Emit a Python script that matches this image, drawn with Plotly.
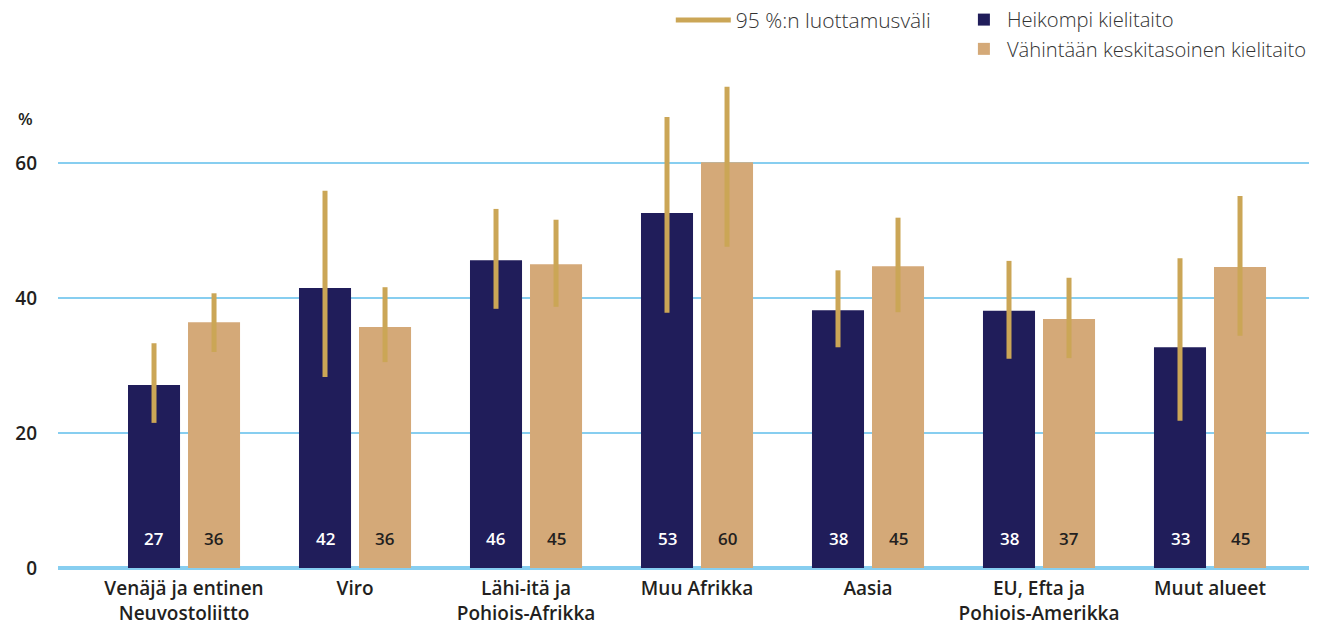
import plotly.graph_objects as go

# categories and tick labels
regions = [
    "Venäjä ja entinen<br>Neuvostoliitto",
    "Viro",
    "Lähi-itä ja<br>Pohjois-Afrikka",
    "Muu Afrikka",
    "Aasia",
    "EU, Efta ja<br>Pohjois-Amerikka",
    "Muut alueet",
]

# Heikompi kielitaito
weak = [27.1, 41.5, 45.6, 52.6, 38.2, 38.1, 32.7]
weak_low = [21.5, 28.3, 38.4, 37.8, 32.7, 31.0, 21.8]
weak_high = [33.3, 55.9, 53.2, 66.8, 44.1, 45.5, 45.9]
weak_labels = ["27", "42", "46", "53", "38", "38", "33"]

# Vähintään keskitasoinen kielitaito
mid = [36.4, 35.7, 45.0, 60.1, 44.7, 36.9, 44.6]
mid_low = [32.0, 30.5, 38.7, 47.6, 37.9, 31.1, 34.4]
mid_high = [40.7, 41.6, 51.6, 71.3, 51.9, 43.0, 55.1]
mid_labels = ["36", "36", "45", "60", "45", "37", "45"]

NAVY = "#201d5a"
TAN = "#d4a978"
GOLD = "#cba656"
GRID = "#87cef0"
TEXT = "#231f20"
FONT = "Open Sans"

x = list(range(len(regions)))

fig = go.Figure()


def add_series(name, values, low, high, color, legend):
    fig.add_trace(go.Bar(
        x=x, y=values, name=name,
        marker=dict(color=color, line=dict(width=0)),
        error_y=dict(
            type="data",
            array=[h - v for h, v in zip(high, values)],
            arrayminus=[v - l for l, v in zip(low, values)],
            color=GOLD, thickness=5, width=0,
        ),
        legend=legend, legendgroup=name,
        hoverinfo="skip",
    ))


add_series("Heikompi kielitaito", weak, weak_low, weak_high, NAVY, "legend2")
add_series("Vähintään keskitasoinen kielitaito", mid, mid_low, mid_high, TAN, "legend2")

# legend entry for the confidence interval
fig.add_trace(go.Scatter(
    x=[None], y=[None], mode="lines", name="95 %:n luottamusväli",
    line=dict(color=GOLD, width=5), legend="legend",
))

# value labels near the bottom of each bar
for i in x:
    fig.add_annotation(x=i, y=0, text=weak_labels[i], showarrow=False,
                       xshift=-30, yshift=30, yanchor="middle",
                       font=dict(family=FONT, size=17, color="white", weight=600))
    fig.add_annotation(x=i, y=0, text=mid_labels[i], showarrow=False,
                       xshift=30, yshift=30, yanchor="middle",
                       font=dict(family=FONT, size=17, color=TEXT, weight=600))

fig.add_annotation(xref="paper", yref="paper", x=-0.026, y=1.0, yshift=-38,
                   xanchor="center", yanchor="middle", text="%", showarrow=False,
                   font=dict(family=FONT, size=17, color=TEXT, weight=600))

# the page body adds an 8px margin, so the figure is 8px smaller each way
fig.update_layout(
    width=1309, height=612,
    margin=dict(l=50, r=2, t=72, b=52, autoexpand=False),
    paper_bgcolor="white", plot_bgcolor="white",
    barmode="group", bargap=0.298, bargroupgap=0.133,
    font=dict(family=FONT, color=TEXT),
    legend=dict(
        x=0.4875, y=1.164, xanchor="left", yanchor="top",
        font=dict(family=FONT, size=21, color="#333333", weight=300),
        bgcolor="rgba(0,0,0,0)", itemwidth=55,
    ),
    legend2=dict(
        x=0.7183, y=1.164, xanchor="left", yanchor="top",
        font=dict(family=FONT, size=20.2, color="#333333", weight=300),
        bgcolor="rgba(0,0,0,0)", itemwidth=36,
        tracegroupgap=8, traceorder="normal",
    ),
    xaxis=dict(
        range=[-0.737, 6.614],
        tickmode="array", tickvals=x, ticktext=regions,
        showgrid=False, zeroline=False, showline=False, ticks="",
        tickfont=dict(family=FONT, size=19, color=TEXT, weight=600),
        ticklabelstandoff=7, automargin=False,
    ),
    yaxis=dict(
        range=[0, 72.3],
        tickvals=[0, 20, 40, 60],
        showgrid=True, gridcolor=GRID, gridwidth=2,
        zeroline=True, zerolinecolor=GRID, zerolinewidth=4,
        tickfont=dict(family=FONT, size=19, color=TEXT, weight=600),
        ticklabelstandoff=20, automargin=False,
    ),
    showlegend=True,
)

fig.write_html("out.html")
